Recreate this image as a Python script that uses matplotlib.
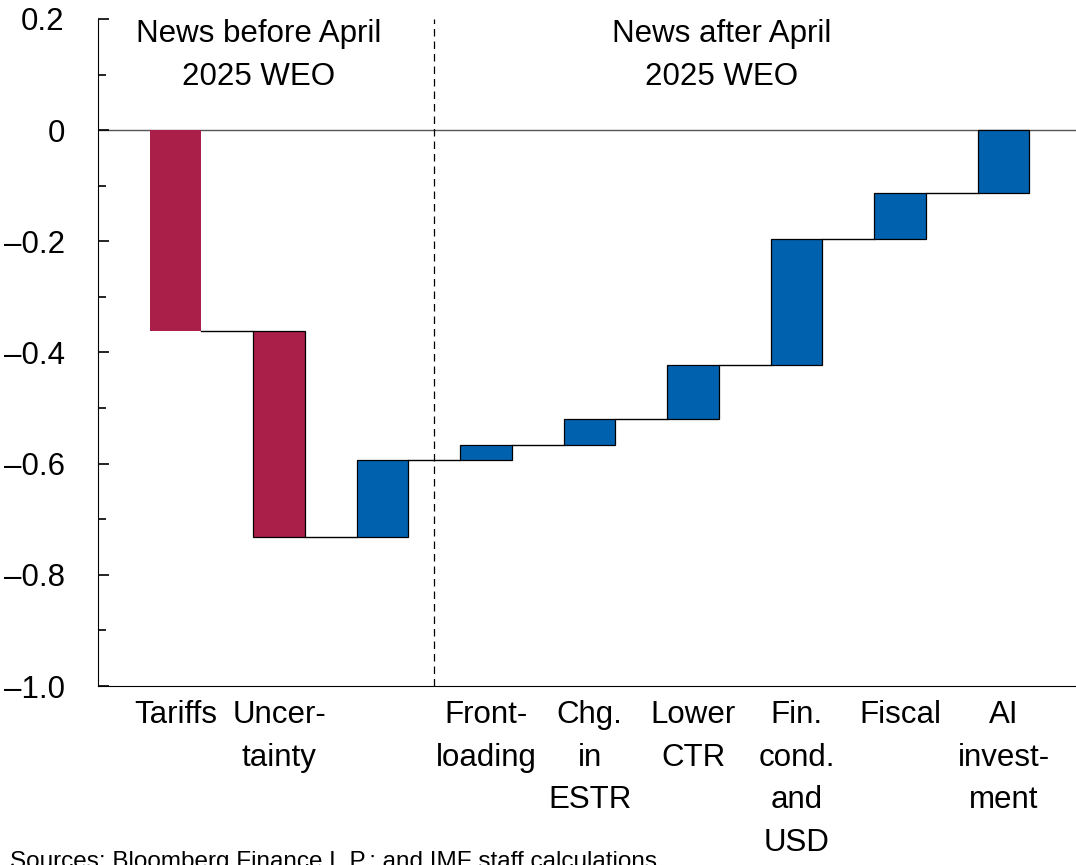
"""Waterfall: news before / after April 2025 WEO."""
import matplotlib

matplotlib.use("Agg")
import matplotlib.pyplot as plt  # noqa: E402
import numpy as np  # noqa: E402

plt.rcParams["font.family"] = ["Liberation Sans", "DejaVu Sans"]

RED = "#A91F4A"
BLUE = "#0061AE"

categories = ["Tariffs", "Uncer-\ntainty", "", "Front-\nloading", "Chg.\nin\nESTR",
              "Lower\nCTR", "Fin.\ncond.\nand\nUSD", "Fiscal", "AI\ninvest-\nment"]
contrib = [-0.362, -0.370, 0.138, 0.028, 0.046, 0.097, 0.228, 0.082, 0.113]
colors = [RED, RED, BLUE, BLUE, BLUE, BLUE, BLUE, BLUE, BLUE]
yticks = [0.2, 0, -0.2, -0.4, -0.6, -0.8, -1.0]
ytick_labels = ["0.2", "0", "\u20130.2", "\u20130.4", "\u20130.6", "\u20130.8", "\u20131.0"]

W, H = 1076, 865
FS = 22.5
LS = 1.55
fig = plt.figure(figsize=(W / 100, H / 100), dpi=100)
ax = fig.add_axes([98 / W, (H - 686) / H, (W - 98) / W, (686 - 19) / H])

x = np.arange(len(contrib))
ends = np.cumsum(contrib)
starts = ends - np.array(contrib)
width = 0.5
for i in range(len(contrib)):
    ax.bar(x[i], contrib[i], bottom=starts[i], width=width, color=colors[i],
           edgecolor="none" if i == 0 else "black", linewidth=0.9, zorder=3)
    if i < len(contrib) - 1:
        ax.plot([x[i] + width / 2, x[i + 1] - width / 2], [ends[i], ends[i]],
                color="black", linewidth=1.0, zorder=2)

ax.axhline(0, color="#555555", linewidth=1.0, zorder=1)
ax.axvline(2.5, color="black", linewidth=0.9, linestyle=(0, (6, 4)), zorder=1)

ax.set_xlim(-0.75, 8.70)
ax.set_ylim(-1.0, 0.2)
ax.set_yticks(yticks)
ax.set_yticklabels(ytick_labels)
ax.set_yticks(np.arange(-0.9, 0.2, 0.2), minor=True)
ax.set_xticks(x)
ax.set_xticklabels(categories, va="top", linespacing=LS)
ax.tick_params(axis="x", length=0, pad=10, labelsize=FS)
ax.tick_params(axis="y", which="both", direction="in", labelsize=FS, pad=24)
ax.tick_params(axis="y", which="major", length=8, width=1.2)
ax.tick_params(axis="y", which="minor", length=6, width=1.2)
ax.spines["top"].set_visible(False)
ax.spines["right"].set_visible(False)

ax.text(0.8, 0.2, "News before April\n2025 WEO", ha="center", va="top",
        fontsize=FS, linespacing=LS)
ax.text(5.28, 0.2, "News after April\n2025 WEO", ha="center", va="top",
        fontsize=FS, linespacing=LS)

fig.text(10 / W, 1 - 851 / H, "Sources: Bloomberg Finance L.P.; and IMF staff calculations.",
         ha="left", va="top", fontsize=17.5)

fig.savefig("out.png", dpi=100)
